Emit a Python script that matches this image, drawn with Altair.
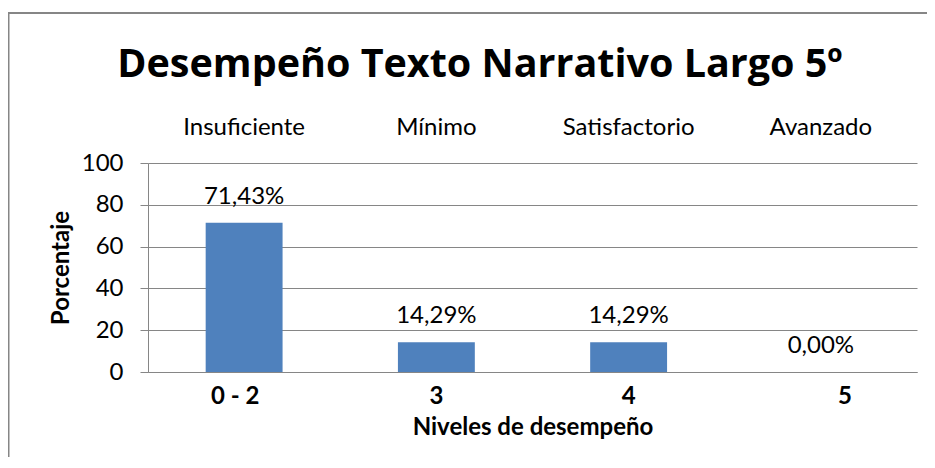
import altair as alt
import pandas as pd

title_text = "Desempeño Texto Narrativo Largo 5º"
niveles = ["0 - 2", "3", "4", "5"]
categorias = ["Insuficiente", "Mínimo", "Satisfactorio", "Avanzado"]
porcentajes = [71.43, 14.29, 14.29, 0.00]
y_ticks = [0, 20, 40, 60, 80, 100]

FONT = "Lato"
TITLE_FONT = "Open Sans"
GRAY = "#868686"
BAR = "#4F81BD"
FS = 24

df = pd.DataFrame({"nivel": niveles, "categoria": categorias, "valor": porcentajes})

x_enc = alt.X(
    "nivel:N",
    sort=niveles,
    scale=alt.Scale(paddingInner=0.6, paddingOuter=0.3),
    axis=alt.Axis(
        title="Niveles de desempeño",
        labelAngle=0,
        labelFont=FONT,
        labelFontSize=FS,
        labelFontWeight="bold",
        labelColor="black",
        labelPadding=12,
        labelOffset={
            "condition": [
                {"test": "datum.value === '0 - 2'", "value": -9},
                {"test": "datum.value === '5'", "value": 24},
            ],
            "value": 0,
        },
        ticks=False,
        domainColor=GRAY,
        titleFont=FONT,
        titleFontSize=FS,
        titleFontWeight="bold",
        titleColor="black",
        titlePadding=7,
    ),
)

y_enc = alt.Y(
    "valor:Q",
    scale=alt.Scale(domain=[0, 100]),
    axis=alt.Axis(
        title="Porcentaje",
        values=y_ticks,
        labelFont=FONT,
        labelFontSize=FS,
        labelColor="black",
        labelPadding=17,
        tickSize=8,
        tickColor=GRAY,
        domainColor=GRAY,
        gridColor=GRAY,
        titleFont=FONT,
        titleFontSize=FS,
        titleFontWeight="bold",
        titleColor="black",
        titlePadding=8,
    ),
)

base = alt.Chart(df)

bars = base.mark_bar(color=BAR).encode(x=x_enc, y=y_enc)

value_labels = base.transform_calculate(
    etiqueta="replace(format(datum.valor, '.2f'), '.', ',') + '%'"
).mark_text(font=FONT, fontSize=FS, color="black", baseline="alphabetic", dy=-19).encode(
    x=alt.X("nivel:N", sort=niveles), y="valor:Q", text="etiqueta:N"
)

top_labels = base.mark_text(font=FONT, fontSize=FS, color="black", baseline="alphabetic").encode(
    x=alt.X("nivel:N", sort=niveles), y=alt.value(-28), text="categoria:N"
)

title_df = pd.DataFrame({"t": [title_text]})
title_mark = alt.Chart(title_df).mark_text(
    font=TITLE_FONT, fontSize=39.5, fontWeight="bold", color="black", baseline="alphabetic", align="center"
).encode(x=alt.value(332), y=alt.value(-86), text="t:N")

frame_df = pd.DataFrame({"k": [1]})
left_border = alt.Chart(frame_df).mark_rule(color=GRAY, strokeWidth=2).encode(
    x=alt.value(-139.5), y=alt.value(-150), y2=alt.value(310)
)
top_border = alt.Chart(frame_df).mark_rule(color=GRAY, strokeWidth=2).encode(
    y=alt.value(-150), x=alt.value(-140.5), x2=alt.value(790)
)

chart = (
    alt.layer(bars, value_labels, top_labels, title_mark, left_border, top_border)
    .properties(
        width=769,
        height=209,
        autosize=alt.AutoSizeParams(type="none"),
        padding={"left": 140, "top": 155, "right": 10, "bottom": 85},
        background="white",
    )
    .configure_view(stroke=None)
)

chart.save("out.html", embed_options={"renderer": "svg", "actions": False})
